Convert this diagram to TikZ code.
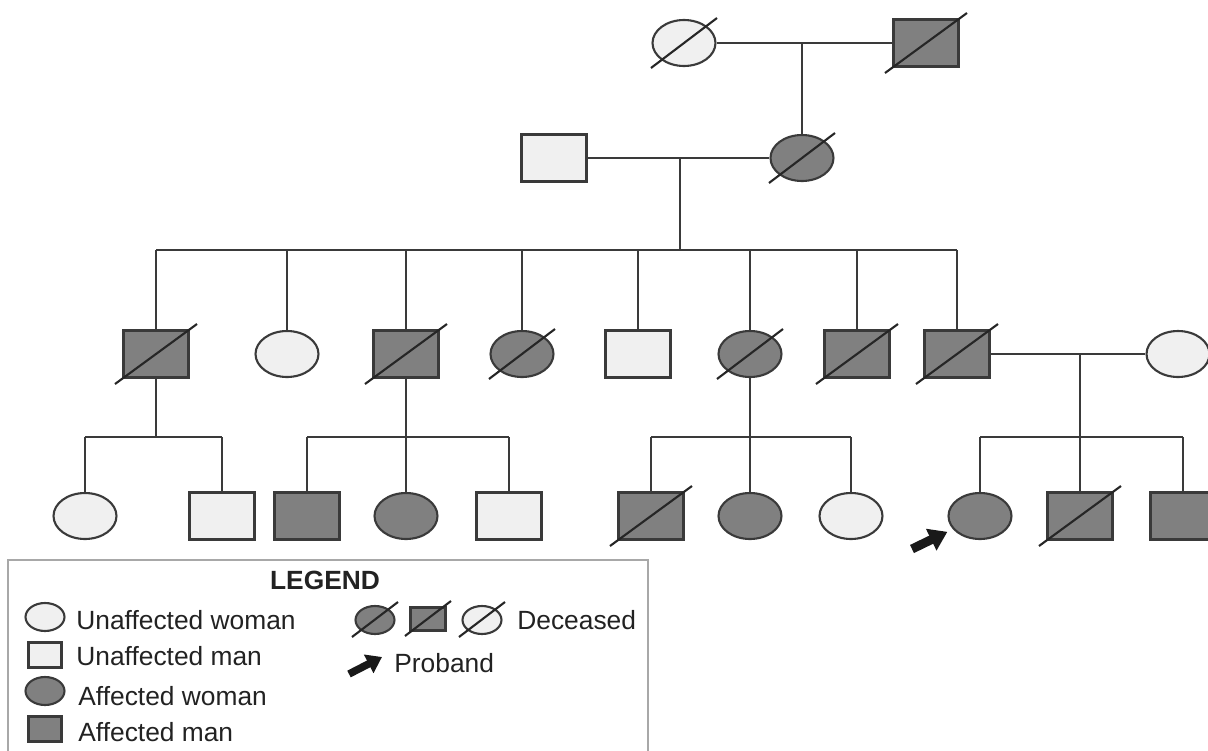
\documentclass[tikz,border=0pt]{standalone}
\usepackage{fontspec}
\setmainfont{Liberation Sans}
\usetikzlibrary{arrows.meta,positioning,calc,shapes.geometric}
\definecolor{pedline}{HTML}{3A3A3A}
\definecolor{pedlight}{HTML}{F0F0F0}
\definecolor{peddark}{HTML}{808080}
\definecolor{pedframe}{HTML}{A8A8A8}
\definecolor{pedtext}{HTML}{222222}
\tikzset{
  female/.style={ellipse,draw=pedline,fill=pedlight,line width=1.2pt,inner sep=0pt,minimum width=1.26cm,minimum height=0.92cm},
  male/.style={rectangle,draw=pedline,fill=pedlight,line width=1.2pt,inner sep=0pt,minimum width=1.3cm,minimum height=0.94cm},
  affected/.style={fill=peddark},
  lfemale/.style={female,minimum width=0.78cm,minimum height=0.56cm},
  lmale/.style={male,minimum width=0.66cm,minimum height=0.5cm},
  kin/.style={line width=1.2pt,draw=pedline},
  slash/.style={line width=1.2pt,draw=black!85},
  proband/.style={-{Triangle[length=0.36cm,width=0.46cm]},line width=0.18cm,draw=black!90,shorten >=0.12cm},
  lproband/.style={-{Triangle[length=0.3cm,width=0.4cm]},line width=0.15cm,draw=black!90},
  legtext/.style={anchor=west,inner sep=0pt,text=pedtext,font=\fontsize{15}{18}\selectfont},
  legframe/.style={line width=1.2pt,draw=pedframe}
}

\begin{document}
\begin{tikzpicture}[x=0.02cm,y=-0.02cm]
\useasboundingbox (0,0) rectangle (1208,751);
\clip (0,0) rectangle (1208,751);
% generation I
\node[female] (g1f) at (684,43) {};
\node[male,affected] (g1m) at (926,43) {};
\coordinate (m1) at (802,43);
% generation II
\node[male] (g2m) at (554,158) {};
\node[female,affected] (g2f) at (802,158) {};
\coordinate (m2) at (680,158);
\coordinate (s2) at (680,250);
% generation III
\node[male,affected] (c31) at (156,354) {};
\node[female] (c32) at (287,354) {};
\node[male,affected] (c33) at (406,354) {};
\node[female,affected] (c34) at (522,354) {};
\node[male] (c35) at (638,354) {};
\node[female,affected] (c36) at (750,354) {};
\node[male,affected] (c37) at (857,354) {};
\node[male,affected] (c38) at (957,354) {};
\node[female] (sp38) at (1178,354) {};
\coordinate (m3) at (1080,354);
\coordinate (s31) at (156,437);
\coordinate (s33) at (406,437);
\coordinate (s36) at (750,437);
\coordinate (s38) at (1080,437);
% generation IV
\node[female] (d1) at (85,516) {};
\node[male] (d2) at (222,516) {};
\node[male,affected] (d3) at (307,516) {};
\node[female,affected] (d4) at (406,516) {};
\node[male] (d5) at (509,516) {};
\node[male,affected] (d6) at (651,516) {};
\node[female,affected] (d7) at (750,516) {};
\node[female] (d8) at (851,516) {};
\node[female,affected] (d9) at (980,516) {};
\node[male,affected] (d10) at (1080,516) {};
\node[male,affected] (d11) at (1183,516) {};
% marriages and descent
\draw[kin] (g1f) -- (g1m);
\draw[kin] (m1) -- (g2f);
\draw[kin] (g2m) -- (g2f);
\draw[kin] (m2) -- (s2);
\draw[kin] (c31 |- s2) -- (c38 |- s2);
\foreach \c in {c31,c32,c33,c34,c35,c36,c37,c38}
  \draw[kin] (\c |- s2) -- (\c);
\draw[kin] (c38) -- (sp38);
\draw[kin] (m3) -- (s38);
\foreach \p/\s in {c31/s31,c33/s33,c36/s36}
  \draw[kin] (\p) -- (\s);
\draw[kin] (d1 |- s31) -- (d2 |- s31);
\draw[kin] (d3 |- s33) -- (d5 |- s33);
\draw[kin] (d6 |- s36) -- (d8 |- s36);
\draw[kin] (d9 |- s38) -- (d11 |- s38);
\foreach \c/\s in {d1/s31,d2/s31,d3/s33,d4/s33,d5/s33,d6/s36,d7/s36,d8/s36,d9/s38,d10/s38,d11/s38}
  \draw[kin] (\c |- \s) -- (\c);
% deceased
\foreach \n in {g1m,c31,c33,c37,c38,d6,d10}
  \draw[slash] ($(\n)+(-41,30)$) -- ($(\n)+(41,-30)$);
\foreach \n in {g1f,g2f,c34,c36}
  \draw[slash] ($(\n)+(-33,25)$) -- ($(\n)+(33,-25)$);
% proband
\coordinate (pbtail) at (912,549);
\draw[proband] (pbtail) -- (d9);
% legend
\draw[legframe] (8,560) rectangle (648,790);
\node[font=\fontsize{15}{18}\selectfont\bfseries,text=pedtext] (legtitle) at (325,580) {LEGEND};
\node[lfemale] (luw) at (45,617) {};
\node[lmale] (lum) at (45,655) {};
\node[lfemale,affected] (law) at (45,691) {};
\node[lmale,affected] (lam) at (45,729) {};
\node[legtext] (tuw) at (76,620) {Unaffected woman};
\node[legtext] (tum) at (76,656) {Unaffected man};
\node[legtext] (taw) at (78,696) {Affected woman};
\node[legtext] (tam) at (78,732) {Affected man};
\node[lfemale,affected] (ld1) at (375,620) {};
\node[lmale,affected,minimum width=0.7cm,minimum height=0.46cm] (ld2) at (428,619) {};
\node[lfemale] (ld3) at (482,620) {};
\foreach \n in {ld1,ld2,ld3}
  \draw[slash] ($(\n)+(-23,17)$) -- ($(\n)+(23,-18)$);
\node[legtext] (tdec) at (517,620) {Deceased};
\coordinate (lpt) at (349,674);
\coordinate (lph) at (382,657);
\draw[lproband] (lpt) -- (lph);
\node[legtext] (tpro) at (394,663) {Proband};
\end{tikzpicture}
\end{document}
